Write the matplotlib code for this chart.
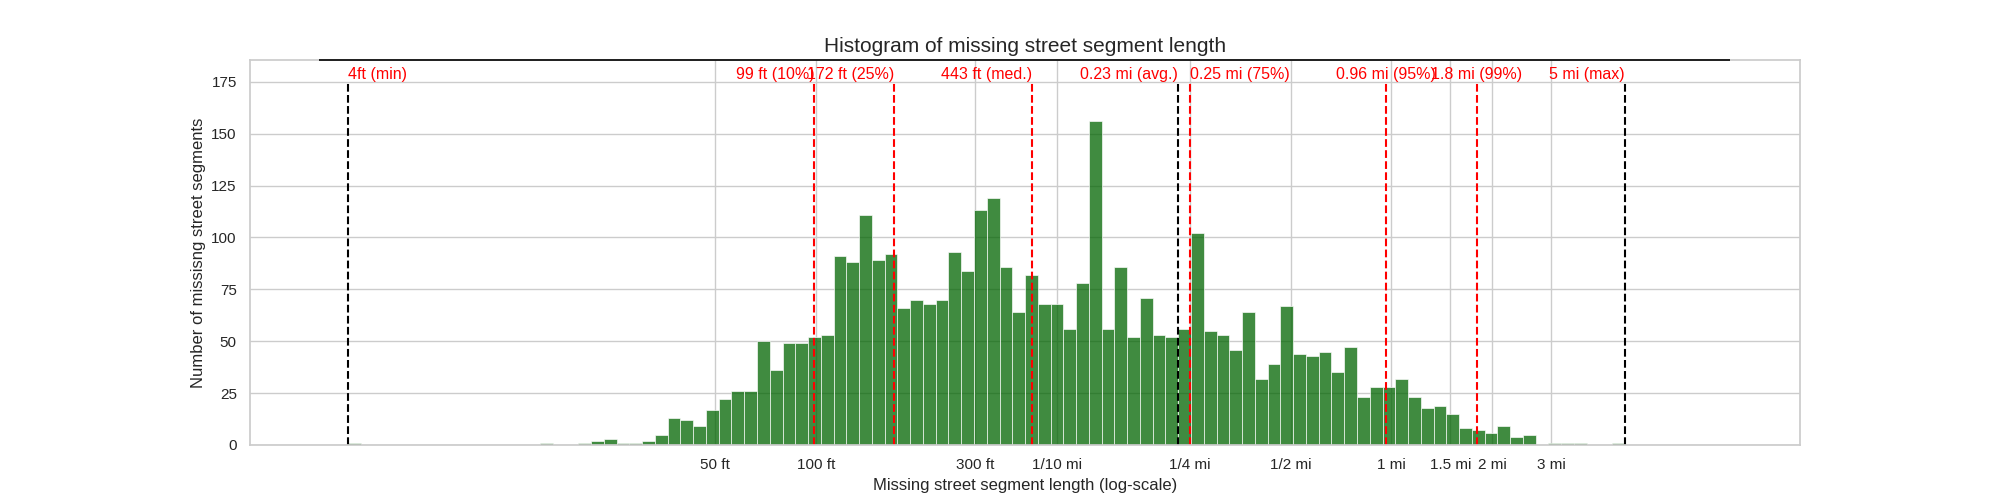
import numpy as np
import matplotlib
matplotlib.use('Agg')
import matplotlib.pyplot as plt
import seaborn as sns

# segment lengths in feet
MIN_FT = 4
MAX_FT = 26400
N_BINS = 100

# counts per log-spaced bin
COUNTS = [1, 0, 0, 0, 0, 0, 0, 0, 0, 0,
          0, 0, 0, 0, 0, 1, 0, 0, 1, 2,
          3, 1, 1, 2, 5, 13, 12, 9, 17, 22,
          26, 26, 50, 36, 49, 49, 52, 53, 91, 88,
          111, 89, 92, 66, 70, 68, 70, 93, 84, 113,
          119, 86, 64, 82, 68, 68, 56, 78, 156, 56,
          86, 52, 71, 53, 52, 56, 102, 55, 53, 46,
          64, 32, 39, 67, 44, 43, 45, 35, 47, 23,
          28, 28, 32, 23, 18, 19, 15, 8, 7, 6,
          9, 4, 5, 0, 1, 1, 1, 0, 0, 1]

# stat lines: value in ft, label, colour, text alignment
STAT_VALUES = [4, 99, 172, 443, 1214, 1320, 5069, 9504, 26400]
STAT_LABELS = ['4ft (min)', '99 ft (10%)', '172 ft (25%)', '443 ft (med.)',
               '0.23 mi (avg.)', '0.25 mi (75%)', '0.96 mi (95%)',
               '1.8 mi (99%)', '5 mi (max)']
STAT_COLORS = ['black', 'red', 'red', 'red', 'black', 'red', 'red', 'red', 'black']
STAT_ALIGN = ['left', 'right', 'right', 'right', 'right', 'left', 'center', 'center', 'right']

TICK_FT = [50, 100, 300, 528, 1320, 2640, 5280, 7920, 10560, 15840]
TICK_LABELS = ['50 ft', '100 ft', '300 ft', '1/10 mi', '1/4 mi', '1/2 mi',
               '1 mi', '1.5 mi', '2 mi', '3 mi']

sns.set_theme(style='whitegrid')
plt.rcParams['font.family'] = ['Liberation Sans', 'DejaVu Sans']

edges = np.logspace(np.log10(MIN_FT), np.log10(MAX_FT), N_BINS + 1)

fig, ax = plt.subplots(figsize=(20, 5), dpi=100)
ax.bar(edges[:-1], COUNTS, width=np.diff(edges), align='edge',
       color='darkgreen', alpha=0.75, edgecolor='white', linewidth=0.6)
ax.set_xscale('log')
ax.set_xlim(2.03, 88100)
ax.set_ylim(0, 185.5)

line_top = 175
for v, lab, c, ha in zip(STAT_VALUES, STAT_LABELS, STAT_COLORS, STAT_ALIGN):
    ax.vlines(v, 0, line_top, colors=c, linestyles='--', lw=1.5)
    ax.text(v, line_top + 3.5, lab, color='red', ha=ha, va='center', fontsize=11.5)

ax.hlines(185.5, 3.27, 54300, colors='black', lw=1.2, clip_on=False, zorder=5)

ax.set_xticks(TICK_FT)
ax.set_xticklabels(TICK_LABELS)
ax.minorticks_off()
ax.set_xlabel('Missing street segment length (log-scale)')
ax.set_ylabel('Number of missisng street segments')
ax.set_title('Histogram of missing street segment length', fontsize=15)

fig.savefig('out.png', dpi=100)
